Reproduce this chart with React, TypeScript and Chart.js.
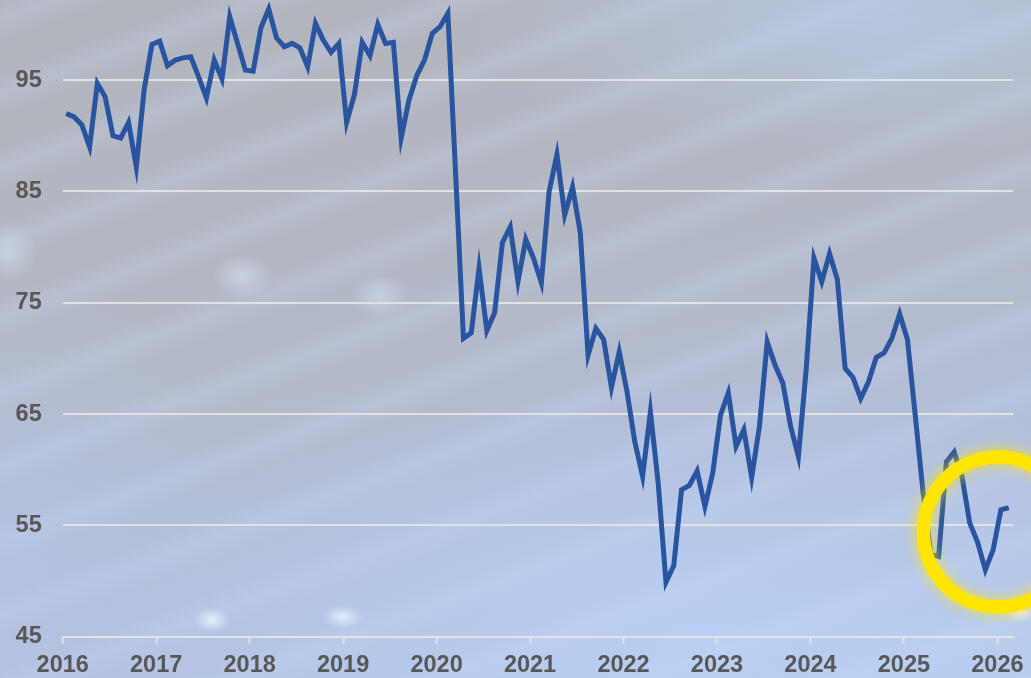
import React, { useEffect, useRef } from "react";
import { Chart, registerables } from "chart.js";

Chart.register(...registerables);

// Monthly index values, Jan 2016 .. Feb 2026
const startYear = 2016;
const values: number[] = [
  92.0, 91.7, 91.0, 89.0, 94.7, 93.5, 90.0, 89.8, 91.2, 87.2, 94.1, 98.2,
  98.5, 96.3, 96.8, 97.0, 97.1, 95.3, 93.4, 96.8, 95.1, 100.7, 98.3, 95.9,
  95.8, 99.7, 101.4, 98.8, 98.0, 98.3, 97.9, 96.2, 100.1, 98.6, 97.5, 98.3,
  91.2, 93.7, 98.4, 97.2, 100.0, 98.3, 98.4, 89.8, 93.2, 95.4, 96.8, 99.2,
  99.8, 101.0, 86.5, 71.8, 72.3, 78.1, 72.5, 74.1, 80.4, 81.8, 76.9, 80.7,
  79.0, 76.8, 85.0, 88.3, 82.9, 85.4, 81.3, 70.3, 72.7, 71.7, 67.4, 70.6,
  67.0, 62.5, 59.4, 65.2, 58.8, 49.9, 51.4, 58.2, 58.6, 59.9, 56.7, 59.7,
  64.9, 66.9, 62.1, 63.6, 59.3, 63.9, 71.5, 69.4, 67.8, 63.9, 61.2, 69.0,
  79.0, 76.9, 79.4, 77.1, 69.1, 68.3, 66.4, 67.9, 70.1, 70.5, 71.8, 74.0,
  71.7, 64.9, 58.0, 52.4, 52.2, 60.7, 61.6, 59.4, 55.2, 53.5, 51.0, 52.8,
  56.4, 56.6,
];
const yearTicks: number[] = [2016, 2017, 2018, 2019, 2020, 2021, 2022, 2023, 2024, 2025, 2026];
const valueTicks: number[] = [45, 55, 65, 75, 85, 95];
const highlight = { x: 2026.01, y: 54.4 };

const points = values.map((v, i) => ({ x: startYear + (i + 0.45) / 12, y: v }));

const ringPlugin = {
  id: "ring",
  afterDatasetsDraw(chart: any) {
    const { ctx, scales } = chart;
    const cx = scales.x.getPixelForValue(highlight.x);
    const cy = scales.y.getPixelForValue(highlight.y);
    ctx.save();
    ctx.strokeStyle = "#FFE500";
    ctx.lineWidth = 13;
    ctx.shadowColor = "rgba(255,232,0,0.85)";
    ctx.shadowBlur = 14;
    ctx.beginPath();
    ctx.arc(cx, cy, 75, 0, Math.PI * 2);
    ctx.stroke();
    ctx.shadowBlur = 0;
    ctx.beginPath();
    ctx.arc(cx, cy, 75, 0, Math.PI * 2);
    ctx.stroke();
    ctx.restore();
  },
};

export default function App() {
  const ref = useRef<HTMLCanvasElement>(null);
  useEffect(() => {
    const gridColor = "rgba(228,228,228,0.95)";
    const chart = new Chart(ref.current!, {
      type: "line",
      data: {
        datasets: [
          {
            data: points,
            borderColor: "#2954A0",
            borderWidth: 5,
            pointRadius: 0,
            tension: 0,
            fill: false,
          },
        ],
      },
      options: {
        animation: false,
        responsive: false,
        maintainAspectRatio: false,
        parsing: false as any,
        layout: { padding: { left: 0, right: 17.7, top: 0, bottom: 0 } },
        plugins: { legend: { display: false }, tooltip: { enabled: false } },
        scales: {
          x: {
            type: "linear",
            min: 2016,
            max: 2026.17,
            afterBuildTicks: (s: any) => {
              s.ticks = yearTicks.map((v) => ({ value: v }));
            },
            afterFit: (s: any) => {
              s.height = 41.3;
              s.paddingLeft = 0;
              s.paddingRight = 0;
            },
            grid: {
              drawOnChartArea: false,
              drawTicks: true,
              tickLength: 7,
              tickColor: gridColor,
              tickWidth: 2,
            },
            border: { display: true, color: gridColor, width: 2 },
            ticks: {
              padding: 9,
              maxRotation: 0,
              autoSkip: false,
              color: "#585858",
              font: { family: "'Liberation Sans', Arial, sans-serif", size: 23.5, weight: "bold", lineHeight: 1.1 },
              callback: (v: any) => String(v),
            },
          },
          y: {
            min: 45,
            max: 102.2,
            afterBuildTicks: (s: any) => {
              s.ticks = valueTicks.map((v) => ({ value: v }));
            },
            afterFit: (s: any) => {
              s.width = 62.7;
              s.paddingTop = 0;
              s.paddingBottom = 0;
            },
            grid: {
              color: gridColor,
              lineWidth: 2,
              drawTicks: false,
            },
            border: { display: false },
            ticks: {
              padding: 21,
              color: "#585858",
              font: { family: "'Liberation Sans', Arial, sans-serif", size: 23.5, weight: "bold" },
              callback: (v: any) => String(v),
            },
          },
        },
      },
      plugins: [ringPlugin],
    });
    return () => chart.destroy();
  }, []);

  const bg = [
    "radial-gradient(ellipse 30px 22px at 242px 276px, rgba(215,228,245,0.6), rgba(215,228,245,0) 100%)",
    "radial-gradient(ellipse 30px 22px at 380px 296px, rgba(215,228,245,0.55), rgba(215,228,245,0) 100%)",
    "radial-gradient(ellipse 30px 30px at 8px 252px, rgba(205,220,240,0.7), rgba(205,220,240,0) 100%)",
    "radial-gradient(ellipse 18px 12px at 212px 620px, rgba(235,242,255,0.9), rgba(235,242,255,0) 100%)",
    "radial-gradient(ellipse 20px 12px at 343px 617px, rgba(235,242,255,0.85), rgba(235,242,255,0) 100%)",
    "radial-gradient(ellipse 16px 10px at 1020px 612px, rgba(235,242,255,0.9), rgba(235,242,255,0) 100%)",
    "repeating-linear-gradient(160deg, rgba(200,218,250,0) 0px, rgba(200,218,250,0.22) 18px, rgba(200,218,250,0) 40px, rgba(190,200,225,0) 70px)",
    "radial-gradient(ellipse 420px 140px at 880px 20px, rgba(182,198,224,0.95), rgba(182,198,224,0) 100%)",
    "radial-gradient(ellipse 600px 260px at 700px 640px, rgba(185,208,245,0.85), rgba(185,208,245,0) 100%)",
    "radial-gradient(ellipse 260px 300px at 0px 560px, rgba(180,196,228,0.7), rgba(180,196,228,0) 100%)",
    "linear-gradient(170deg, #b2b5bd 0%, #b3b7c1 35%, #b3bcd2 60%, #b4c3e2 85%, #b8cdee 100%)",
  ].join(", ");

  return (
    <div
      style={{
        position: "fixed",
        left: 0,
        top: 0,
        width: 1031,
        height: 678,
        overflow: "hidden",
        background: bg,
      }}
    >
      <canvas ref={ref} width={1031} height={678} style={{ display: "block", width: 1031, height: 678 }} />
    </div>
  );
}
